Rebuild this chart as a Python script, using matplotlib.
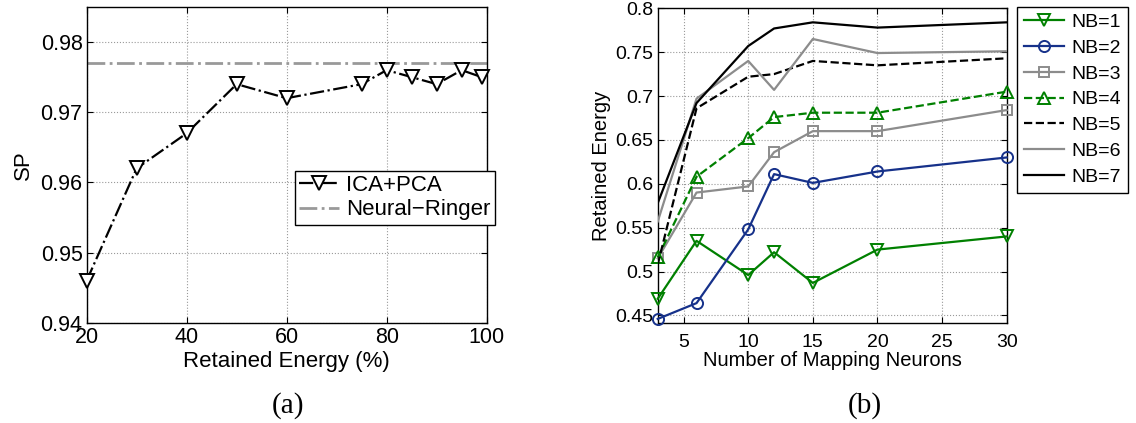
import numpy as np
import matplotlib
matplotlib.use('Agg')
from matplotlib import pyplot as plt

# (a) SP vs retained energy
energy = [20, 30, 40, 50, 60, 75, 80, 85, 90, 95, 99]
sp_icapca = [0.946, 0.962, 0.967, 0.974, 0.972, 0.974, 0.976, 0.975, 0.974, 0.976, 0.975]
sp_ringer = 0.977

# (b) retained energy vs number of mapping neurons
neurons = [3, 6, 10, 12, 15, 20, 30]
nb1 = [0.469, 0.535, 0.496, 0.522, 0.487, 0.525, 0.540]
nb2 = [0.446, 0.464, 0.548, 0.611, 0.601, 0.614, 0.630]
nb3 = [0.515, 0.590, 0.597, 0.636, 0.660, 0.660, 0.684]
nb4 = [0.516, 0.608, 0.652, 0.676, 0.681, 0.681, 0.705]
nb5 = [0.508, 0.686, 0.722, 0.725, 0.740, 0.735, 0.743]
nb6 = [0.557, 0.697, 0.740, 0.707, 0.765, 0.749, 0.751]
nb7 = [0.578, 0.692, 0.757, 0.777, 0.784, 0.778, 0.784]
nb_labels = ['NB=1', 'NB=2', 'NB=3', 'NB=4', 'NB=5', 'NB=6', 'NB=7']

plt.rcParams['font.family'] = ['Liberation Sans', 'DejaVu Sans']

green = '#008000'
navy = '#16318a'
grey = '#8c8c8c'

fig = plt.figure(figsize=(11.36, 4.23), dpi=100)

def style_axes(ax, fs):
	ax.grid(True, linestyle=':', color='#9a9a9a', linewidth=0.8)
	ax.tick_params(direction='in', top=True, right=True, labelsize=fs, length=4, pad=3)
	for s in ax.spines.values():
		s.set_linewidth(1.0)

#### panel (a)
ax1 = fig.add_axes([0.0763, 0.2371, 0.3521, 0.7464])
ax1.plot(energy, sp_icapca, color='k', linestyle='-.', linewidth=1.6, marker='v',
	markersize=9.5, markerfacecolor='white', markeredgecolor='k', markeredgewidth=1.4,
	label='ICA+PCA', clip_on=False, zorder=3)
ax1.axhline(sp_ringer, color='#999999', linestyle='-.', linewidth=2.0, label='Neural\u2212Ringer')
ax1.set_xlim(20, 100)
ax1.set_ylim(0.94, 0.985)
ax1.set_xticks([20, 40, 60, 80, 100])
ax1.set_yticks([0.94, 0.95, 0.96, 0.97, 0.98])
ax1.set_yticklabels(['0.94', '0.95', '0.96', '0.97', '0.98'])
style_axes(ax1, 15.5)
ax1.set_xlabel('Retained Energy (%)', fontsize=16, labelpad=2)
ax1.set_ylabel('SP', fontsize=16, labelpad=5)
leg1 = ax1.legend(loc='upper left', bbox_to_anchor=(295/1136, 1-170.7/423), bbox_transform=fig.transFigure,
	fontsize=16, frameon=True, fancybox=False, edgecolor='k', framealpha=1,
	handlelength=1.8, handletextpad=0.3, borderpad=0.2, labelspacing=0.15, borderaxespad=0)
leg1.get_frame().set_linewidth(1.0)

#### panel (b)
ax2 = fig.add_axes([0.5790, 0.2357, 0.3072, 0.7447])
ax2.plot(neurons, nb1, color=green, linestyle='-', linewidth=1.6, marker='v', markersize=8,
	markerfacecolor='none', markeredgewidth=1.4, label=nb_labels[0], clip_on=False, zorder=3)
ax2.plot(neurons, nb2, color=navy, linestyle='-', linewidth=1.6, marker='o', markersize=8,
	markerfacecolor='none', markeredgewidth=1.4, label=nb_labels[1], clip_on=False, zorder=3)
ax2.plot(neurons, nb3, color=grey, linestyle='-', linewidth=1.6, marker='s', markersize=6.5,
	markerfacecolor='none', markeredgewidth=1.4, label=nb_labels[2], clip_on=False, zorder=3)
ax2.plot(neurons, nb4, color=green, linestyle='--', linewidth=1.6, marker='^', markersize=8,
	markerfacecolor='none', markeredgewidth=1.4, label=nb_labels[3], clip_on=False, zorder=3)
ax2.plot(neurons, nb5, color='k', linestyle='--', linewidth=1.6, label=nb_labels[4], zorder=3)
ax2.plot(neurons, nb6, color=grey, linestyle='-', linewidth=1.6, label=nb_labels[5], zorder=3)
ax2.plot(neurons, nb7, color='k', linestyle='-', linewidth=1.6, label=nb_labels[6], zorder=3)
ax2.set_xlim(3, 30)
ax2.set_ylim(0.441, 0.8)
ax2.set_xticks([5, 10, 15, 20, 25, 30])
yt = [0.45, 0.5, 0.55, 0.6, 0.65, 0.7, 0.75, 0.8]
ax2.set_yticks(yt)
ax2.set_yticklabels(['0.45', '0.5', '0.55', '0.6', '0.65', '0.7', '0.75', '0.8'])
style_axes(ax2, 14)
ax2.tick_params(axis='x', pad=8)
ax2.set_xlabel('Number of Mapping Neurons', fontsize=14.5, labelpad=0)
ax2.set_ylabel('Retained Energy', fontsize=14.5, labelpad=3)
leg2 = ax2.legend(loc='upper left', bbox_to_anchor=(1016.7/1136, 1-6.7/423), bbox_transform=fig.transFigure,
	fontsize=14, frameon=True, fancybox=False, edgecolor='k', framealpha=1,
	handlelength=2.1, handletextpad=0.35, borderpad=0.35, labelspacing=0.42, borderaxespad=0)
leg2.get_frame().set_linewidth(1.0)

#### captions
fig.text(288/1136, 1-406/423, '(a)', fontsize=21, family=['Liberation Serif', 'DejaVu Serif'],
	ha='center', va='center')
fig.text(865/1136, 1-406/423, '(b)', fontsize=21, family=['Liberation Serif', 'DejaVu Serif'],
	ha='center', va='center')

fig.savefig('out.png', dpi=100, facecolor='white')
